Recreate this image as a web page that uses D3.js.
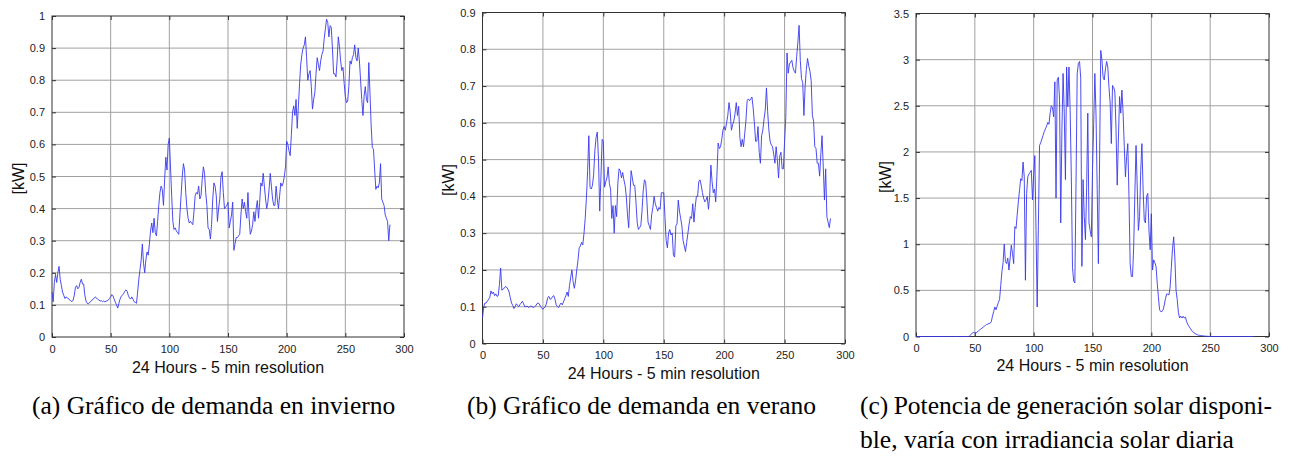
<!DOCTYPE html>
<html>
<head>
<meta charset="utf-8">
<script src="https://cdn.jsdelivr.net/npm/d3@7"></script>
<style>
  html, body { margin: 0; padding: 0; background: #ffffff; }
  svg { display: block; }
</style>
</head>
<body>
<svg id="fig" width="1306" height="460"></svg>
<script>
// Sample index (5-minute steps over 24 hours) is the array position.
const winterDemand = [
  0.14, 0.11, 0.17, 0.195, 0.17, 0.20, 0.22, 0.18, 0.16, 0.14,
  0.13, 0.12, 0.125, 0.122, 0.12, 0.115, 0.113, 0.11, 0.115, 0.13,
  0.155, 0.16, 0.15, 0.155, 0.17, 0.18, 0.165, 0.165, 0.13, 0.112,
  0.105, 0.103, 0.108, 0.11, 0.115, 0.117, 0.122, 0.125, 0.12, 0.118,
  0.115, 0.112, 0.113, 0.11, 0.112, 0.11, 0.111, 0.113, 0.115, 0.12,
  0.125, 0.132, 0.128, 0.118, 0.108, 0.10, 0.09, 0.105, 0.118, 0.127,
  0.13, 0.135, 0.142, 0.147, 0.143, 0.13, 0.122, 0.118, 0.125, 0.118,
  0.11, 0.108, 0.105, 0.14, 0.18, 0.21, 0.24, 0.29, 0.23, 0.20,
  0.24, 0.265, 0.255, 0.29, 0.33, 0.355, 0.325, 0.37, 0.325, 0.315,
  0.36, 0.41, 0.45, 0.47, 0.46, 0.41, 0.49, 0.56, 0.52, 0.60,
  0.62, 0.53, 0.44, 0.36, 0.335, 0.34, 0.33, 0.325, 0.32, 0.38,
  0.44, 0.50, 0.54, 0.52, 0.45, 0.40, 0.37, 0.355, 0.36, 0.355,
  0.35, 0.39, 0.44, 0.45, 0.445, 0.47, 0.43, 0.44, 0.49, 0.53,
  0.51, 0.45, 0.41, 0.34, 0.335, 0.305, 0.35, 0.43, 0.48, 0.47,
  0.44, 0.36, 0.40, 0.43, 0.50, 0.515, 0.45, 0.40, 0.405, 0.41,
  0.42, 0.34, 0.36, 0.38, 0.42, 0.27, 0.29, 0.31, 0.31, 0.315,
  0.32, 0.38, 0.43, 0.40, 0.42, 0.39, 0.37, 0.45, 0.37, 0.32,
  0.33, 0.35, 0.39, 0.36, 0.40, 0.425, 0.37, 0.42, 0.48, 0.47,
  0.51, 0.47, 0.43, 0.40, 0.42, 0.46, 0.51, 0.47, 0.43, 0.41,
  0.41, 0.47, 0.43, 0.40, 0.44, 0.48, 0.47, 0.48, 0.50, 0.53,
  0.61, 0.60, 0.58, 0.565, 0.63, 0.70, 0.72, 0.69, 0.74, 0.65,
  0.72, 0.79, 0.85, 0.88, 0.90, 0.91, 0.935, 0.87, 0.80, 0.82,
  0.83, 0.78, 0.71, 0.74, 0.76, 0.82, 0.87, 0.85, 0.83, 0.86,
  0.88, 0.89, 0.93, 0.96, 0.99, 0.98, 0.935, 0.97, 0.965, 0.90,
  0.82, 0.82, 0.81, 0.86, 0.935, 0.905, 0.86, 0.83, 0.84, 0.79,
  0.75, 0.73, 0.735, 0.78, 0.86, 0.85, 0.87, 0.88, 0.91, 0.87,
  0.86, 0.90, 0.86, 0.80, 0.74, 0.69, 0.75, 0.78, 0.74, 0.73,
  0.855, 0.76, 0.66, 0.59, 0.585, 0.52, 0.46, 0.47, 0.465, 0.48,
  0.54, 0.43, 0.42, 0.41, 0.38, 0.37, 0.36, 0.30, 0.35
];

const summerDemand = [
  0.07, 0.10, 0.11, 0.11, 0.115, 0.12, 0.125, 0.143, 0.135, 0.14,
  0.13, 0.135, 0.128, 0.13, 0.16, 0.205, 0.145, 0.148, 0.15, 0.155,
  0.153, 0.148, 0.14, 0.125, 0.11, 0.104, 0.095, 0.10, 0.108, 0.104,
  0.10, 0.106, 0.11, 0.115, 0.108, 0.10, 0.10, 0.102, 0.098, 0.10,
  0.102, 0.10, 0.098, 0.10, 0.102, 0.108, 0.11, 0.108, 0.10, 0.097,
  0.093, 0.097, 0.10, 0.11, 0.125, 0.128, 0.12, 0.122, 0.128, 0.13,
  0.12, 0.105, 0.10, 0.098, 0.105, 0.11, 0.105, 0.113, 0.122, 0.13,
  0.14, 0.128, 0.158, 0.18, 0.20, 0.168, 0.15, 0.17, 0.20, 0.225,
  0.26, 0.265, 0.275, 0.268, 0.30, 0.34, 0.395, 0.47, 0.565, 0.425,
  0.42, 0.43, 0.46, 0.525, 0.56, 0.575, 0.50, 0.36, 0.45, 0.555,
  0.55, 0.425, 0.44, 0.45, 0.48, 0.435, 0.42, 0.34, 0.375, 0.30,
  0.375, 0.345, 0.435, 0.475, 0.47, 0.45, 0.465, 0.445, 0.43, 0.40,
  0.35, 0.315, 0.40, 0.47, 0.45, 0.43, 0.43, 0.385, 0.33, 0.31,
  0.315, 0.32, 0.36, 0.415, 0.445, 0.44, 0.39, 0.33, 0.32, 0.31,
  0.35, 0.37, 0.40, 0.38, 0.37, 0.36, 0.37, 0.365, 0.41, 0.41,
  0.41, 0.345, 0.28, 0.26, 0.30, 0.31, 0.295, 0.30, 0.24, 0.235,
  0.32, 0.325, 0.39, 0.36, 0.34, 0.32, 0.28, 0.265, 0.25, 0.275,
  0.30, 0.325, 0.345, 0.34, 0.38, 0.33, 0.37, 0.40, 0.40, 0.44,
  0.445, 0.43, 0.41, 0.395, 0.385, 0.39, 0.40, 0.365, 0.40, 0.485,
  0.44, 0.41, 0.42, 0.385, 0.455, 0.545, 0.53, 0.535, 0.555, 0.58,
  0.59, 0.58, 0.60, 0.62, 0.655, 0.63, 0.58, 0.595, 0.605, 0.625,
  0.655, 0.62, 0.645, 0.56, 0.535, 0.555, 0.535, 0.57, 0.605, 0.66,
  0.665, 0.66, 0.665, 0.67, 0.64, 0.60, 0.55, 0.55, 0.59, 0.52,
  0.49, 0.565, 0.58, 0.61, 0.635, 0.695, 0.63, 0.58, 0.55, 0.54,
  0.535, 0.515, 0.49, 0.535, 0.50, 0.45, 0.51, 0.52, 0.475, 0.475,
  0.55, 0.615, 0.79, 0.735, 0.76, 0.765, 0.77, 0.75, 0.74, 0.735,
  0.78, 0.82, 0.865, 0.77, 0.72, 0.71, 0.62, 0.70, 0.745, 0.775,
  0.755, 0.74, 0.715, 0.62, 0.605, 0.535, 0.53, 0.49, 0.49, 0.455,
  0.515, 0.565, 0.48, 0.39, 0.475, 0.345, 0.33, 0.315, 0.34
];

const solarPower = [
  0, 0, 0, 0, 0, 0, 0, 0, 0, 0,
  0, 0, 0, 0, 0, 0, 0, 0, 0, 0,
  0, 0, 0, 0, 0, 0, 0, 0, 0, 0,
  0, 0, 0, 0, 0, 0, 0, 0, 0, 0,
  0, 0, 0, 0, 0, 0, 0.01, 0.025, 0.04, 0.045,
  0.04, 0.035, 0.05, 0.06, 0.07, 0.08, 0.09, 0.10, 0.11, 0.12,
  0.13, 0.135, 0.14, 0.145, 0.16, 0.22, 0.27, 0.32, 0.29, 0.33,
  0.37, 0.40, 0.55, 0.70, 0.80, 1.00, 0.81, 0.79, 0.85, 0.72,
  0.85, 0.99, 0.90, 0.79, 1.19, 1.17, 1.32, 1.46, 1.59, 1.71,
  1.69, 1.89, 1.73, 0.61, 1.55, 1.73, 1.76, 1.78, 1.80, 1.48,
  1.75, 1.96, 1.15, 0.32, 1.20, 2.07, 2.10, 2.14, 2.18, 2.22,
  2.25, 2.28, 2.32, 2.30, 2.42, 2.50, 2.48, 2.38, 2.76, 1.50,
  2.78, 2.81, 2.56, 1.23, 2.24, 2.85, 2.42, 1.70, 2.92, 2.49,
  2.92, 2.45, 1.73, 0.75, 0.60, 0.58, 1.66, 2.85, 2.96, 2.98,
  2.80, 0.76, 1.70, 1.30, 1.05, 1.60, 2.42, 1.23, 1.15, 1.08,
  1.80, 2.30, 2.85, 2.40, 1.59, 0.79, 1.88, 3.10, 3.00, 2.81,
  2.78, 2.90, 2.98, 2.92, 2.70, 2.53, 2.09, 2.72, 2.70, 2.65,
  2.24, 1.64, 2.13, 2.60, 2.42, 2.67, 2.42, 2.06, 1.73, 1.95,
  2.09, 1.52, 0.79, 0.65, 0.65, 0.97, 1.55, 2.07, 1.62, 1.15,
  1.30, 1.80, 2.09, 1.59, 1.26, 1.23, 1.52, 1.55, 1.15, 0.94,
  1.33, 0.72, 0.83, 0.80, 0.76, 0.58, 0.43, 0.29, 0.27, 0.27,
  0.29, 0.34, 0.41, 0.46, 0.46, 0.45, 0.54, 0.75, 0.95, 1.08,
  0.85, 0.50, 0.40, 0.26, 0.20, 0.22, 0.20, 0.22, 0.20, 0.21,
  0.16, 0.13, 0.11, 0.09, 0.07, 0.055, 0.04, 0.035, 0.025, 0.02,
  0.015, 0.012, 0.01, 0.008, 0.006, 0.005, 0.004, 0.003, 0.002, 0.001,
  0, 0, 0, 0, 0, 0, 0, 0, 0, 0,
  0, 0, 0, 0, 0, 0, 0, 0, 0, 0,
  0, 0, 0, 0, 0, 0, 0, 0, 0, 0,
  0, 0, 0, 0, 0, 0, 0, 0
];

const hourTicks = [0, 50, 100, 150, 200, 250, 300];
const winterTicks = [0, 0.1, 0.2, 0.3, 0.4, 0.5, 0.6, 0.7, 0.8, 0.9, 1];
const summerTicks = [0, 0.1, 0.2, 0.3, 0.4, 0.5, 0.6, 0.7, 0.8, 0.9];
const solarTicks = [0, 0.5, 1, 1.5, 2, 2.5, 3, 3.5];

const xLabel = "24 Hours - 5 min resolution";
const yLabel = "[kW]";

const svg = d3.select("#fig");

const SANS = "'Liberation Sans', Arial, sans-serif";
const SERIF = "'Liberation Serif', 'Times New Roman', serif";

function drawPanel(box, values, yTicks) {
  const x = d3.scaleLinear().domain([0, 300]).range([box.left, box.right]);
  const y = d3.scaleLinear().domain([0, yTicks[yTicks.length - 1]]).range([box.bottom, box.top]);
  const g = svg.append("g");

  // grid
  g.append("g").selectAll("line").data(hourTicks.slice(1, -1)).join("line")
    .attr("x1", d => x(d)).attr("x2", d => x(d))
    .attr("y1", box.top).attr("y2", box.bottom)
    .attr("stroke", "#a0a0a0").attr("stroke-width", 1);
  g.append("g").selectAll("line").data(yTicks.slice(1, -1)).join("line")
    .attr("x1", box.left).attr("x2", box.right)
    .attr("y1", d => y(d)).attr("y2", d => y(d))
    .attr("stroke", "#a0a0a0").attr("stroke-width", 1);

  // axes with inward ticks, MATLAB style
  const tl = 4;
  const axB = d3.axisBottom(x).tickValues(hourTicks).tickSizeInner(-tl).tickSizeOuter(0).tickPadding(8).tickFormat(d3.format("d"));
  const axT = d3.axisTop(x).tickValues(hourTicks).tickSizeInner(-tl).tickSizeOuter(0).tickFormat("");
  const axL = d3.axisLeft(y).tickValues(yTicks).tickSizeInner(-tl).tickSizeOuter(0).tickPadding(7).tickFormat(d3.format("~g"));
  const axR = d3.axisRight(y).tickValues(yTicks).tickSizeInner(-tl).tickSizeOuter(0).tickFormat("");

  const styleAxis = sel => {
    sel.select(".domain").remove();
    sel.selectAll("line").attr("stroke", "#333").attr("stroke-width", 1);
    sel.selectAll("text").attr("fill", "#222").style("font-family", SANS).style("font-size", "11px");
  };
  g.append("g").attr("transform", `translate(0,${box.bottom})`).call(axB).call(styleAxis);
  g.append("g").attr("transform", `translate(0,${box.top})`).call(axT).call(styleAxis);
  g.append("g").attr("transform", `translate(${box.left},0)`).call(axL).call(styleAxis);
  g.append("g").attr("transform", `translate(${box.right},0)`).call(axR).call(styleAxis);

  // frame
  g.append("rect")
    .attr("x", box.left).attr("y", box.top)
    .attr("width", box.right - box.left).attr("height", box.bottom - box.top)
    .attr("fill", "none").attr("stroke", "#333").attr("stroke-width", 1);

  // data line, drawn over the frame
  const line = d3.line().x((d, i) => x(i)).y(d => y(d));
  g.append("path").datum(values)
    .attr("d", line)
    .attr("fill", "none")
    .attr("stroke", "#3838f0")
    .attr("stroke-width", 0.9)
    .attr("stroke-linejoin", "round");

  // axis titles
  g.append("text")
    .attr("x", (box.left + box.right) / 2).attr("y", box.xLabelY)
    .attr("text-anchor", "middle")
    .style("font-family", SANS).style("font-size", "16px").attr("fill", "#111")
    .text(xLabel);
  g.append("text")
    .attr("transform", `translate(${box.yLabelX},${(box.top + box.bottom) / 2 + 2}) rotate(-90)`)
    .attr("text-anchor", "middle")
    .style("font-family", SANS).style("font-size", "16px").attr("fill", "#111")
    .text(yLabel);
}

drawPanel({ left: 52, right: 404, top: 16, bottom: 337, xLabelY: 373, yLabelX: 24 }, winterDemand, winterTicks);
drawPanel({ left: 482.5, right: 845, top: 12.5, bottom: 343.5, xLabelY: 379, yLabelX: 454 }, summerDemand, summerTicks);
drawPanel({ left: 916, right: 1269, top: 13.5, bottom: 336.5, xLabelY: 371, yLabelX: 891 }, solarPower, solarTicks);

// sub-figure captions
function caption(x, y, str, justifyTo) {
  const t = svg.append("text")
    .attr("x", x).attr("y", y)
    .style("font-family", SERIF).style("font-size", "25.5px").attr("fill", "#000")
    .text(str);
  if (justifyTo) {
    const natural = t.node().getComputedTextLength();
    const spaces = (str.match(/ /g) || []).length;
    if (spaces > 0) t.attr("word-spacing", (justifyTo - natural) / spaces);
  }
  return t;
}
caption(32, 414, "(a) Gráfico de demanda en invierno");
caption(467, 414, "(b) Gráfico de demanda en verano");
caption(860, 414, "(c) Potencia de generación solar disponi-", 412);
caption(860, 448, "ble, varía con irradiancia solar diaria");
</script>
</body>
</html>
